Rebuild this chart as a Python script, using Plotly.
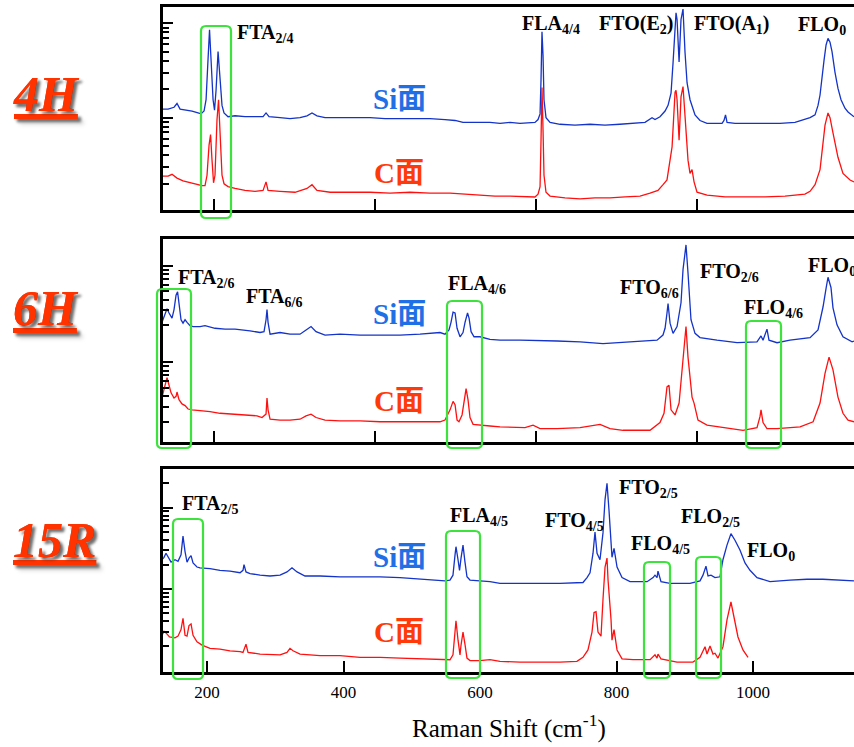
import numpy as np
import plotly.graph_objects as go

# ---------------- data: (Raman shift cm^-1, log10 intensity a.u.) ----------------
si_4h = [(135.4,3.09),(142.9,3.09),(150.3,3.11),(154.0,3.15),(157.8,3.09),(165.2,3.08),(172.7,3.07),(180.1,3.05),(183.9,3.04),(187.6,3.07),(190.1,3.19),(192.5,3.61),(194.4,3.93),(196.3,3.61),(198.8,3.19),(200.6,3.08),(202.5,3.29),(205.0,3.70),(207.5,3.40),(209.9,3.13),(212.4,3.05),(217.4,3.01),(226.1,3.02),(238.5,3.01),(250.9,3.01),(260.9,3.01),(264.6,3.05),(268.3,3.01),(282.0,3.00),(294.4,2.99),(306.8,3.00),(315.5,3.02),(321.7,3.05),(327.9,3.02),(337.9,3.00),(356.5,3.00),(375.2,3.00),(393.8,3.00),(412.4,2.99),(431.0,2.99),(449.7,2.99),(468.3,2.99),(486.9,2.98),(499.4,2.97),(509.3,2.95),(524.2,2.95),(542.8,2.95),(555.3,2.94),(567.7,2.95),(580.1,2.94),(598.7,2.95),(602.5,2.98),(605.0,3.04),(606.2,3.40),(607.4,3.91),(608.7,3.66),(609.9,3.19),(612.4,3.00),(617.4,2.95),(629.8,2.93),(648.4,2.92),(667.1,2.93),(685.7,2.92),(704.3,2.93),(723.0,2.94),(735.4,2.95),(744.1,3.00),(747.8,2.98),(754.0,3.01),(760.3,3.07),(764.0,3.13),(767.7,3.26),(770.2,3.58),(772.7,3.98),(773.9,4.11),(775.2,4.04),(777.7,3.59),(780.1,4.04),(782.6,4.15),(785.1,3.69),(787.6,3.37),(791.3,3.19),(793.8,3.12),(797.5,3.03),(803.7,2.97),(812.4,2.94),(828.6,2.94),(831.1,2.94),(833.5,2.97),(835.4,3.03),(837.3,2.95),(847.2,2.94),(865.8,2.94),(884.5,2.94),(903.1,2.94),(921.7,2.95),(934.1,2.98),(940.4,3.00),(946.6,3.03),(950.3,3.13),(952.8,3.24),(955.3,3.45),(957.8,3.61),(960.3,3.77),(962.7,3.84),(965.2,3.80),(967.7,3.70),(971.4,3.48),(975.1,3.31),(978.9,3.19),(983.8,3.10),(987.6,3.06),(992.6,3.02),(995.0,3.01)]

c_4h = [(135.4,2.38),(142.9,2.38),(147.8,2.40),(154.0,2.36),(161.5,2.33),(170.2,2.31),(177.6,2.30),(185.1,2.28),(188.8,2.28),(191.3,2.39),(193.8,2.71),(195.7,2.82),(197.5,2.55),(199.4,2.31),(201.2,2.39),(203.7,2.98),(205.6,3.19),(207.5,2.87),(209.9,2.39),(212.4,2.30),(217.4,2.27),(226.1,2.25),(238.5,2.23),(250.9,2.22),(260.9,2.23),(264.6,2.32),(267.1,2.23),(282.0,2.22),(300.6,2.21),(315.5,2.25),(321.7,2.29),(327.9,2.23),(344.3,2.21),(369.1,2.21),(393.8,2.21),(418.6,2.20),(443.5,2.21),(468.3,2.20),(493.2,2.20),(511.8,2.19),(530.4,2.18),(549.0,2.17),(567.7,2.17),(586.3,2.16),(598.7,2.16),(602.5,2.19),(605.0,2.27),(606.2,2.76),(607.4,3.32),(608.7,2.87),(609.9,2.39),(612.4,2.21),(617.4,2.17),(636.0,2.15),(654.7,2.14),(673.3,2.15),(691.9,2.15),(710.6,2.16),(729.2,2.17),(741.6,2.20),(751.5,2.23),(757.8,2.29),(762.7,2.34),(769.0,2.69),(771.4,3.10),(772.7,3.27),(773.9,3.29),(775.2,3.19),(777.7,2.76),(780.1,3.22),(782.6,3.33),(785.1,2.98),(788.8,2.55),(791.3,2.41),(793.8,2.45),(796.3,2.32),(800.0,2.21),(812.4,2.18),(834.8,2.16),(859.6,2.16),(884.5,2.16),(909.3,2.17),(928.0,2.18),(934.1,2.19),(940.4,2.22),(946.6,2.29),(952.8,2.45),(955.3,2.62),(956.5,2.76),(959.0,2.92),(962.7,3.05),(965.2,3.00),(968.9,2.84),(975.1,2.58),(981.3,2.41),(990.1,2.34),(995.0,2.32)]

si_6h = [(135.4,3.47),(139.1,3.58),(141.6,3.63),(144.1,3.58),(147.8,3.52),(150.3,3.62),(152.8,3.79),(154.7,3.83),(156.5,3.67),(159.0,3.50),(161.5,3.46),(164.0,3.50),(166.5,3.47),(170.2,3.43),(173.9,3.42),(182.6,3.42),(188.8,3.43),(201.2,3.40),(213.7,3.39),(226.1,3.39),(244.7,3.37),(257.1,3.35),(262.1,3.36),(264.6,3.50),(265.8,3.62),(267.1,3.47),(269.6,3.33),(282.0,3.35),(294.4,3.33),(306.8,3.33),(313.0,3.37),(320.5,3.42),(326.7,3.36),(337.9,3.32),(356.5,3.33),(381.4,3.32),(406.2,3.32),(431.0,3.32),(455.9,3.33),(480.7,3.35),(486.9,3.33),(491.9,3.38),(494.4,3.47),(496.9,3.59),(499.4,3.58),(501.9,3.40),(505.6,3.30),(509.3,3.35),(511.8,3.47),(514.9,3.58),(516.8,3.52),(519.3,3.36),(523.0,3.30),(530.4,3.30),(542.8,3.27),(555.3,3.26),(580.1,3.26),(605.0,3.25),(626.1,3.25),(654.7,3.24),(683.2,3.22),(716.8,3.24),(750.3,3.26),(757.7,3.32),(760.3,3.40),(762.7,3.58),(764.0,3.69),(766.5,3.46),(770.2,3.34),(775.2,3.42),(780.1,3.70),(782.6,4.09),(786.3,4.38),(788.8,4.05),(792.5,3.50),(797.5,3.34),(803.7,3.29),(824.8,3.26),(849.7,3.23),(874.5,3.24),(879.5,3.31),(882.0,3.26),(886.9,3.39),(889.4,3.26),(899.4,3.23),(915.5,3.26),(940.4,3.29),(950.3,3.38),(956.5,3.65),(960.3,3.87),(962.7,4.00),(966.4,3.88),(968.9,3.64),(973.9,3.44),(981.3,3.30),(992.6,3.24),(995.0,3.25)]

c_6h = [(135.4,2.59),(139.1,2.73),(141.6,2.82),(144.1,2.73),(146.6,2.64),(150.3,2.58),(152.8,2.60),(154.0,2.65),(156.5,2.56),(160.2,2.51),(164.0,2.49),(167.7,2.45),(172.7,2.44),(182.6,2.43),(195.0,2.42),(207.5,2.40),(219.9,2.39),(232.3,2.38),(244.7,2.37),(253.4,2.37),(259.6,2.35),(264.6,2.39),(265.8,2.58),(267.1,2.44),(269.6,2.33),(282.0,2.32),(294.4,2.32),(306.8,2.33),(314.3,2.37),(320.5,2.39),(326.7,2.35),(337.9,2.32),(356.5,2.31),(381.4,2.31),(406.2,2.30),(431.0,2.30),(455.9,2.30),(480.7,2.30),(486.9,2.32),(493.2,2.44),(496.9,2.54),(499.4,2.50),(501.9,2.32),(504.3,2.30),(508.1,2.38),(510.6,2.56),(513.1,2.69),(515.5,2.56),(518.0,2.35),(521.8,2.27),(530.4,2.26),(542.8,2.25),(555.3,2.24),(586.3,2.23),(596.3,2.26),(605.0,2.22),(626.1,2.22),(654.7,2.23),(679.5,2.27),(691.9,2.22),(708.1,2.20),(741.6,2.20),(754.0,2.29),(759.0,2.40),(762.7,2.71),(765.2,2.73),(767.7,2.44),(772.7,2.38),(777.7,2.52),(782.6,2.99),(786.3,3.42),(788.8,3.06),(793.8,2.59),(796.3,2.52),(801.2,2.32),(812.4,2.26),(832.3,2.23),(857.1,2.20),(874.5,2.23),(878.2,2.36),(879.5,2.44),(882.0,2.29),(886.9,2.22),(899.4,2.22),(928.0,2.24),(944.2,2.30),(952.8,2.52),(959.0,2.87),(964.0,3.06),(968.9,2.91),(975.1,2.59),(981.3,2.40),(987.6,2.32),(995.0,2.30)]

si_15r = [(134.1,3.36),(137.0,3.39),(139.9,3.44),(142.9,3.39),(147.3,3.33),(153.1,3.36),(157.5,3.34),(161.9,3.42),(164.8,3.65),(167.8,3.46),(170.7,3.33),(173.6,3.38),(176.6,3.41),(179.5,3.32),(185.3,3.27),(189.7,3.26),(204.4,3.25),(219.0,3.23),(233.7,3.22),(248.4,3.20),(252.7,3.23),(254.2,3.30),(257.1,3.21),(263.0,3.19),(277.7,3.17),(292.3,3.16),(307.0,3.17),(317.2,3.21),(324.5,3.26),(331.9,3.21),(343.6,3.16),(365.6,3.16),(394.9,3.15),(424.2,3.15),(453.5,3.15),(482.8,3.14),(512.1,3.12),(534.1,3.11),(548.7,3.10),(556.0,3.11),(560.4,3.17),(563.4,3.42),(564.8,3.52),(567.8,3.36),(570.0,3.23),(572.2,3.38),(575.1,3.54),(578.0,3.33),(580.9,3.15),(585.3,3.11),(600.0,3.10),(614.6,3.09),(629.3,3.07),(658.6,3.07),(687.9,3.07),(717.2,3.07),(750.9,3.08),(756.8,3.14),(761.2,3.20),(765.6,3.44),(768.5,3.70),(771.5,3.44),(775.8,3.36),(780.2,3.69),(783.2,4.10),(786.1,4.30),(789.0,3.97),(792.0,3.57),(793.4,3.39),(796.4,3.50),(800.8,3.27),(808.1,3.14),(819.8,3.09),(844.8,3.09),(853.6,3.14),(856.4,3.17),(859.4,3.14),(860.8,3.22),(865.2,3.09),(878.4,3.07),(907.7,3.07),(922.4,3.10),(926.7,3.17),(931.1,3.28),(934.1,3.16),(938.5,3.17),(944.3,3.14),(951.6,3.15),(956.0,3.36),(961.9,3.54),(967.7,3.68),(973.6,3.60),(980.9,3.48),(988.3,3.32),(995.6,3.23),(1005.9,3.14),(1024.9,3.09),(1054.2,3.11),(1079.1,3.12),(1102.5,3.12),(1127.5,3.11),(1148.0,3.10)]

c_15r = [(134.1,2.43),(137.0,2.48),(139.9,2.46),(145.0,2.41),(153.1,2.40),(157.5,2.42),(161.9,2.50),(164.8,2.64),(167.8,2.43),(170.7,2.42),(173.6,2.55),(176.6,2.57),(179.5,2.43),(185.3,2.35),(192.7,2.31),(204.4,2.27),(219.0,2.26),(233.7,2.24),(248.4,2.23),(252.7,2.22),(257.1,2.32),(260.1,2.22),(277.7,2.20),(307.0,2.19),(317.2,2.22),(321.6,2.27),(326.0,2.24),(336.3,2.20),(365.6,2.18),(394.9,2.18),(424.2,2.16),(453.5,2.16),(482.8,2.15),(512.1,2.14),(541.4,2.13),(556.0,2.13),(560.4,2.19),(563.4,2.50),(564.8,2.61),(567.8,2.37),(570.7,2.19),(572.2,2.31),(575.1,2.47),(578.0,2.32),(580.9,2.15),(585.3,2.12),(600.0,2.12),(614.6,2.13),(629.3,2.11),(658.6,2.10),(687.9,2.10),(717.2,2.10),(742.0,2.11),(750.9,2.16),(758.2,2.25),(764.1,2.47),(767.1,2.71),(770.0,2.72),(772.9,2.47),(777.3,2.42),(780.2,2.87),(783.2,3.27),(786.1,3.38),(787.6,3.11),(792.0,2.62),(793.4,2.37),(796.4,2.50),(800.8,2.25),(808.1,2.14),(824.2,2.13),(849.2,2.13),(856.4,2.19),(859.4,2.15),(860.8,2.20),(865.2,2.14),(888.6,2.10),(912.0,2.10),(922.4,2.16),(929.7,2.29),(932.6,2.20),(937.0,2.30),(941.4,2.20),(944.3,2.21),(948.7,2.15),(956.0,2.29),(961.9,2.62),(967.7,2.84),(972.1,2.66),(978.0,2.41),(985.3,2.25),(992.7,2.16)]

x_ticks_top = [200, 400, 600, 800]
x_ticks_bottom = [200, 400, 600, 800, 1000]
polytypes = ["4H", "6H", "15R"]

# ---------------- styling / layout ----------------
W, H = 854, 747
ML, MR, MT, MB = 163, 0, 7, 75
PW, PH = W - ML - MR, H - MT - MB
BLUE, RED = "#1433C8", "#FF1010"
SI_COL, C_COL = "#1F6FE6", "#FF3A0A"
GREEN = "#3DE33D"
SERIF = "Liberation Serif"

def px(x):
    return (x - ML) / PW

def py(y):
    return (H - MB - y) / PH

fig = go.Figure()
panels = [("x", "y", si_4h, c_4h), ("x2", "y2", si_6h, c_6h), ("x3", "y3", si_15r, c_15r)]
for xa, ya, si, c in panels:
    for data, col in ((si, BLUE), (c, RED)):
        xs, ys = zip(*data)
        fig.add_trace(go.Scatter(x=list(xs), y=list(ys), mode="lines",
                                 line=dict(color=col, width=1.3),
                                 xaxis=xa, yaxis=ya, showlegend=False, hoverinfo="skip"))

def log_ticks(tops, lo, hi):
    majors, minors = [], []
    for m in tops:
        if lo < m < hi:
            majors.append(m)
        for j in range(2, 10):
            v = m - 1 + np.log10(j)
            if lo < v < hi - 0.03:
                minors.append(float(v))
    return majors, minors

y_specs = [
    ("yaxis", "x", [py(210), py(7)], [2.022, 4.172], [3, 4, 5]),
    ("yaxis2", "x2", [py(442), py(239)], [2.062, 4.450], [3, 4.136, 5.136]),
    ("yaxis3", "x3", [py(672), py(469)], [1.979, 4.476], [3, 4, 5]),
]
lay = {}
for name, anchor, dom, rng, tops in y_specs:
    majors, minors = log_ticks(tops, rng[0], rng[1])
    lay[name] = dict(domain=dom, range=rng, anchor=anchor, showline=True, linecolor="black",
                     linewidth=2.5, mirror=False, showgrid=False, zeroline=False,
                     tickmode="array", tickvals=majors, ticks="inside", ticklen=10,
                     tickwidth=2, tickcolor="black", showticklabels=False,
                     minor=dict(tickmode="array", tickvals=minors, ticks="inside",
                                ticklen=6, tickwidth=2, tickcolor="black", showgrid=False))

x_common = dict(domain=[0, 1], showline=True, linecolor="black", linewidth=2.5, mirror=True,
                showgrid=False, zeroline=False, ticks="inside", ticklen=11, tickwidth=2,
                tickcolor="black", tickmode="array")
lay["xaxis"] = dict(x_common, anchor="y", range=[136.6, 995.0], tickvals=x_ticks_top, showticklabels=False)
lay["xaxis2"] = dict(x_common, anchor="y2", range=[136.6, 995.0], tickvals=x_ticks_top, showticklabels=False)
lay["xaxis3"] = dict(x_common, anchor="y3", range=[135.5, 1148.0], tickvals=x_ticks_bottom,
                     ticktext=[str(v) for v in x_ticks_bottom], showticklabels=True,
                     tickfont=dict(family=SERIF, size=17, color="black"), ticklabelstandoff=3)

annotations = []

def add_text(text, xl, ymid, size, color="black", family=SERIF, **font_extra):
    annotations.append(dict(text=text, x=px(xl), y=py(ymid), xref="paper", yref="paper",
                            xanchor="left", yanchor="middle", showarrow=False,
                            font=dict(family=family, size=size, color=color, **font_extra)))

# peak labels: (text, left px, caps-middle px)
peak_labels = [
    ("FTA<sub>2/4</sub>", 235, 33), ("FLA<sub>4/4</sub>", 520, 24), ("FTO(E<sub>2</sub>)", 597, 24),
    ("FTO(A<sub>1</sub>)", 692, 24), ("FLO<sub>0</sub>", 796, 25),
    ("FTA<sub>2/6</sub>", 176, 279), ("FTA<sub>6/6</sub>", 244, 297), ("FLA<sub>4/6</sub>", 446, 284),
    ("FTO<sub>6/6</sub>", 618, 288), ("FTO<sub>2/6</sub>", 698, 272), ("FLO<sub>4/6</sub>", 742, 308),
    ("FLO<sub>0</sub>", 806, 266),
    ("FTA<sub>2/5</sub>", 180, 504), ("FLA<sub>4/5</sub>", 448, 516), ("FTO<sub>4/5</sub>", 543, 521),
    ("FTO<sub>2/5</sub>", 617, 489), ("FLO<sub>4/5</sub>", 629, 544), ("FLO<sub>2/5</sub>", 679, 517),
    ("FLO<sub>0</sub>", 745, 551),
]
for t, xl, ym in peak_labels:
    add_text(t, xl, ym, 20, weight="bold")

face_family = "Liberation Serif, Noto Sans CJK SC"
for ym_si, ym_c in ((98.5, 173.5), (314.5, 401), (556.5, 631.5)):
    add_text("Si面", 371, ym_si, 29, color=SI_COL, family=face_family, weight="bold")
    add_text("C面", 372, ym_c, 29, color=C_COL, family=face_family, weight="bold")

for name, ym in zip(polytypes, (94, 308, 540)):
    add_text(name, 11, ym, 50, color="#FF3300", weight="bold", style="italic",
             lineposition="under", shadow="3px 3px 3px rgba(0,0,0,0.35)")

annotations.append(dict(text="Raman Shift (cm<sup>-1</sup>)", x=px(509), y=py(726), xref="paper",
                        yref="paper", xanchor="center", yanchor="middle", showarrow=False,
                        font=dict(family=SERIF, size=25, color="black")))

def rrect(x0, y0, x1, y1, r=5):
    P = lambda a, b: f"{px(a):.5f},{py(b):.5f}"
    return (f"M {P(x0 + r, y0)} L {P(x1 - r, y0)} Q {P(x1, y0)} {P(x1, y0 + r)} "
            f"L {P(x1, y1 - r)} Q {P(x1, y1)} {P(x1 - r, y1)} L {P(x0 + r, y1)} "
            f"Q {P(x0, y1)} {P(x0, y1 - r)} L {P(x0, y0 + r)} Q {P(x0, y0)} {P(x0 + r, y0)} Z")

boxes = [(201, 26, 231, 218), (157, 289, 191, 448), (447, 301, 482, 448), (746, 321, 781, 448),
         (173, 519, 203, 679), (446, 531, 480, 678), (644, 562, 670, 678), (696, 557, 721, 678)]
shapes = [dict(type="path", path=rrect(*b), xref="paper", yref="paper",
               line=dict(color=GREEN, width=2.2), layer="above") for b in boxes]

fig.update_layout(width=W, height=H, margin=dict(l=ML, r=MR, t=MT, b=MB),
                  paper_bgcolor="white", plot_bgcolor="white",
                  annotations=annotations, shapes=shapes, **lay)

fig.write_html("out.html", config={"displayModeBar": False},
               post_script="document.body.style.margin='0';document.body.style.padding='0';")
